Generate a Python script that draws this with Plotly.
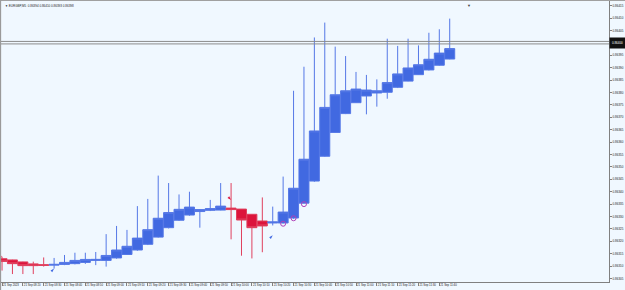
import plotly.graph_objects as go

times = ["08:10", "08:15", "08:20", "08:25", "08:30", "08:35", "08:40", "08:45", "08:50", "08:55",
         "09:00", "09:05", "09:10", "09:15", "09:20", "09:25", "09:30", "09:35", "09:40", "09:45",
         "09:50", "09:55", "10:00", "10:05", "10:10", "10:15", "10:20", "10:25", "10:30", "10:35",
         "10:40", "10:45", "10:50", "10:55", "11:00", "11:05", "11:10", "11:15", "11:20", "11:25",
         "11:30", "11:35", "11:40", "11:45"]

open_ = [0.863130, 0.863125, 0.863117, 0.863109, 0.863106, 0.863104, 0.863107, 0.863110, 0.863115, 0.863123,
         0.863123, 0.863133, 0.863147, 0.863165, 0.863188, 0.863217, 0.863255, 0.863285, 0.863306, 0.863320,
         0.863325, 0.863326, 0.863334, 0.863330, 0.863309, 0.863282, 0.863274, 0.863274, 0.863294, 0.863354,
         0.863443, 0.863543, 0.863639, 0.863715, 0.863759, 0.863786, 0.863798, 0.863801, 0.863821, 0.863846,
         0.863872, 0.863891, 0.863910, 0.863935]
high = [0.863138, 0.863126, 0.863118, 0.863118, 0.863135, 0.863133, 0.863145, 0.863154, 0.863154, 0.863157,
        0.863229, 0.863262, 0.863246, 0.863342, 0.863371, 0.863465, 0.863435, 0.863389, 0.863400, 0.863330,
        0.863367, 0.863435, 0.863435, 0.863330, 0.863309, 0.863377, 0.863340, 0.863461, 0.863807, 0.863904,
        0.864022, 0.864082, 0.863985, 0.863947, 0.863883, 0.863871, 0.863853, 0.864017, 0.863988, 0.864017,
        0.863990, 0.864041, 0.864055, 0.864098]
low = [0.863082, 0.863068, 0.863068, 0.863068, 0.863098, 0.863090, 0.863104, 0.863107, 0.863109, 0.863104,
       0.863098, 0.863130, 0.863145, 0.863162, 0.863185, 0.863215, 0.863252, 0.863282, 0.863303, 0.863255,
       0.863322, 0.863325, 0.863208, 0.863142, 0.863131, 0.863156, 0.863264, 0.863272, 0.863291, 0.863352,
       0.863440, 0.863541, 0.863638, 0.863713, 0.863758, 0.863712, 0.863743, 0.863775, 0.863818, 0.863845,
       0.863871, 0.863889, 0.863908, 0.863934]
close = [0.863119, 0.863110, 0.863102, 0.863102, 0.863103, 0.863107, 0.863115, 0.863123, 0.863127, 0.863127,
         0.863143, 0.863165, 0.863180, 0.863213, 0.863247, 0.863293, 0.863316, 0.863329, 0.863338, 0.863328,
         0.863332, 0.863342, 0.863328, 0.863286, 0.863255, 0.863262, 0.863278, 0.863318, 0.863414, 0.863531,
         0.863645, 0.863740, 0.863791, 0.863807, 0.863814, 0.863810, 0.863807, 0.863840, 0.863875, 0.863899,
         0.863912, 0.863934, 0.863959, 0.863977]

# signal markers
sell_x = ["08:10", "10:00"]
sell_y = [0.863135, 0.863367]
buy_x = ["08:35", "10:20"]
buy_y = [0.863090, 0.863224]
circle_x = ["10:25", "10:30", "10:35"]
circle_y = [0.863271, 0.863293, 0.863350]

price_lines = [0.864006, 0.863996]
current_price_label = "0.86400"

y_tick_vals = [0.86305, 0.86310, 0.86315, 0.86320, 0.86325, 0.86330, 0.86335, 0.86340, 0.86345, 0.86350,
               0.86355, 0.86360, 0.86365, 0.86370, 0.86375, 0.86380, 0.86385, 0.86390, 0.86395, 0.86400,
               0.86405, 0.86410, 0.86415]
y_tick_text = ["0.86305", "0.86310", "0.86315", "0.86320", "0.86325", "0.86330", "0.86335", "0.86340",
               "0.86345", "0.86350", "0.86355", "0.86360", "0.86365", "0.86370", "0.86375", "0.86380",
               "0.86385", "0.86390", "0.86395", "0.86400", "0.86405", "0.86410", "0.86415"]

x_tick_vals = ["08:10", "08:20", "08:30", "08:40", "08:50", "09:00", "09:10", "09:20", "09:30", "09:40",
               "09:50", "10:00", "10:10", "10:20", "10:30", "10:40", "10:50", "11:00", "11:10", "11:20",
               "11:30", "11:40"]
x_tick_text = ["21 Sep 2023", "21 Sep 08:20", "21 Sep 08:30", "21 Sep 08:40", "21 Sep 08:50",
               "21 Sep 09:00", "21 Sep 09:10", "21 Sep 09:20", "21 Sep 09:30", "21 Sep 09:40",
               "21 Sep 09:50", "21 Sep 10:00", "21 Sep 10:10", "21 Sep 10:20", "21 Sep 10:30",
               "21 Sep 10:40", "21 Sep 10:50", "21 Sep 11:00", "21 Sep 11:10", "21 Sep 11:20",
               "21 Sep 11:30", "21 Sep 11:40"]

title_text = "\u25bc EURGBP,M5  0.86394 0.86410 0.86393 0.86398"

BG = "#F0F8FF"
BLUE = "#4169E1"
RED = "#DC143C"

fig = go.Figure()
fig.add_trace(go.Candlestick(
    x=times, open=open_, high=high, low=low, close=close,
    increasing=dict(fillcolor=BLUE, line=dict(color="#5578E6", width=1)),
    decreasing=dict(fillcolor=RED, line=dict(color="#E0405E", width=1)),
    whiskerwidth=0, showlegend=False, hoverinfo="skip",
))
fig.add_trace(go.Scatter(x=sell_x, y=sell_y, mode="markers", showlegend=False,
                         marker=dict(symbol="arrow", angle=135, size=4, color=RED)))
fig.add_trace(go.Scatter(x=buy_x, y=buy_y, mode="markers", showlegend=False,
                         marker=dict(symbol="arrow", angle=45, size=4, color=BLUE)))
fig.add_trace(go.Scatter(x=circle_x, y=circle_y, mode="markers", showlegend=False,
                         marker=dict(symbol="circle-open", size=5, color="#B040B8", line=dict(width=1))))

for p in price_lines:
    fig.add_shape(type="line", xref="paper", x0=0, x1=1, yref="y", y0=p, y1=p,
                  line=dict(color="#8C8C8C", width=1))

# frame edges
fig.add_shape(type="line", xref="paper", yref="paper", x0=-0.002, x1=1.03, y0=1.003, y1=1.003,
              line=dict(color="#A0A0A0", width=1.5))
fig.add_shape(type="line", xref="paper", yref="paper", x0=-0.001, x1=-0.001, y0=-0.03, y1=1.003,
              line=dict(color="#9A9A9A", width=1.5))

fig.add_annotation(xref="paper", yref="y", x=1.0, y=price_lines[0] - 0.000005, xanchor="left",
                   text=current_price_label, showarrow=False, bgcolor="#111111",
                   font=dict(size=3, color="white", family="Liberation Sans"), width=13, height=8)
fig.add_annotation(xref="paper", yref="paper", x=0.003, y=0.995, xanchor="left", yanchor="top",
                   text=title_text, showarrow=False,
                   font=dict(size=3, color="#222222", family="Liberation Sans"))
fig.add_annotation(xref="paper", yref="paper", x=0.77, y=1.0, xanchor="center", yanchor="top",
                   text="\u25bc", showarrow=False, font=dict(size=4, color="#444444"))

fig.update_layout(
    width=625, height=290,
    margin=dict(l=1, r=16, t=1, b=8),
    paper_bgcolor=BG, plot_bgcolor=BG,
    boxgap=0.04, boxgroupgap=0,
    xaxis=dict(type="category", range=[-0.1, 58.3], rangeslider=dict(visible=False),
               showgrid=False, zeroline=False, showline=True, linecolor="#808080", linewidth=1,
               ticks="outside", ticklen=3, tickcolor="#808080",
               tickvals=x_tick_vals, ticktext=x_tick_text, ticklabelposition="outside right",
               tickfont=dict(size=2.8, color="#222222", family="Liberation Sans"), tickangle=0),
    yaxis=dict(side="right", range=[0.863036, 0.864169], showgrid=False, zeroline=False,
               showline=True, linecolor="#808080", linewidth=1,
               ticks="outside", ticklen=2, tickcolor="#808080",
               tickvals=y_tick_vals, ticktext=y_tick_text,
               tickfont=dict(size=3, color="#222222", family="Liberation Sans")),
)

fig.write_html("out.html")
